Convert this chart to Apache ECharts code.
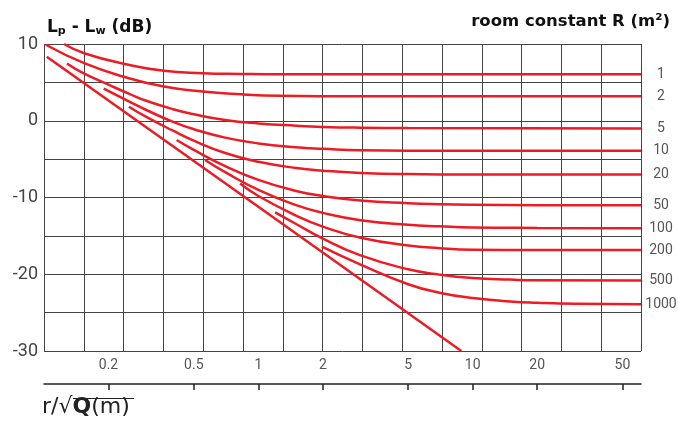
<!DOCTYPE html>
<html>
<head>
<meta charset="utf-8">
<script src="https://cdn.jsdelivr.net/npm/echarts@6/dist/echarts.min.js"></script>
<style>
  html, body { margin: 0; padding: 0; background: #fff; }
  #chart { width: 678px; height: 424px; }
</style>
</head>
<body>
<div id="chart"></div>
<script>
// x: r/sqrt(Q) in m (log axis), y: Lp - Lw in dB
var xTicks = [0.2, 0.5, 1, 2, 5, 10, 20, 50];
var roomNames = ['1', '2', '5', '10', '20', '50', '100', '200', '500', '1000'];

// free field (direct sound) line
var direct = [[0.103, 8.35], [1, -11.2], [8.85, -30]];

// one curve per room constant R
var curveR1 = [[0.124, 10.0], [0.154, 8.8], [0.238, 7.4], [0.363, 6.5], [0.55, 6.2], [0.83, 6.1], [1.26, 6.05], [61, 6.05]];
var curveR2 = [[0.102, 9.9], [0.154, 7.5], [0.238, 5.7], [0.363, 4.45], [0.55, 3.8], [0.83, 3.45], [1.26, 3.25], [1.94, 3.2], [61, 3.2]];
var curveR5 = [[0.128, 7.45], [0.15, 6.3], [0.2, 4.7], [0.25, 3.5], [0.3, 2.6], [0.4, 1.5], [0.5, 0.85], [0.7, 0.1], [1, -0.35], [1.5, -0.65], [2, -0.8], [3, -0.9], [5, -0.95], [61, -1.0]];
var curveR10 = [[0.19, 4.2], [0.25, 2.5], [0.3, 1.4], [0.4, -0.15], [0.5, -1.1], [0.7, -2.2], [1, -2.95], [1.5, -3.45], [2, -3.65], [3, -3.85], [5, -3.9], [61, -3.9]];
var curveR20 = [[0.249, 1.83], [0.3, 0.5], [0.4, -1.3], [0.5, -2.6], [0.7, -4.2], [1, -5.35], [1.5, -6.15], [2, -6.5], [3, -6.8], [5, -6.95], [10, -7.0], [61, -7.0]];
var curveR50 = [[0.416, -2.51], [0.5, -3.8], [0.7, -5.9], [1, -7.7], [1.5, -9.15], [2, -9.8], [3, -10.4], [5, -10.75], [7, -10.88], [10, -10.95], [20, -11.0], [61, -11.0]];
var curveR100 = [[0.564, -5.11], [0.7, -6.7], [1, -9.0], [1.5, -11.0], [2, -12.0], [3, -12.95], [5, -13.55], [7, -13.75], [10, -13.9], [20, -13.96], [61, -14.0]];
var curveR200 = [[0.822, -8.18], [1, -9.8], [1.5, -12.35], [2, -13.8], [3, -15.25], [5, -16.25], [7, -16.6], [10, -16.8], [20, -16.85], [61, -16.85]];
var curveR500 = [[1.198, -11.93], [1.5, -13.45], [2, -15.35], [3, -17.55], [5, -19.35], [7, -20.05], [10, -20.5], [15, -20.7], [20, -20.78], [61, -20.8]];
var curveR1000 = [[1.979, -16.41], [3, -18.75], [5, -21.3], [7, -22.4], [10, -23.1], [15, -23.55], [20, -23.72], [30, -23.85], [61, -23.9]];

var curves = [curveR1, curveR2, curveR5, curveR10, curveR20, curveR50, curveR100, curveR200, curveR500, curveR1000];

var gridColumns = 15;
var red = '#ec1c24';

var myChart = echarts.init(document.getElementById('chart'));

var series = [{
    name: 'direct',
    type: 'line',
    xAxisIndex: 0,
    data: direct,
    showSymbol: false,
    lineStyle: { color: red, width: 2.5 },
    z: 3
}, {
    // empty series so the evenly spaced grid axis gets drawn
    name: 'grid',
    type: 'line',
    xAxisIndex: 1,
    data: [],
    silent: true
}];
for (var i = 0; i < curves.length; i++) {
    series.push({
        name: roomNames[i],
        type: 'line',
        xAxisIndex: 0,
        data: curves[i],
        showSymbol: false,
        smooth: 0.5,
        lineStyle: { color: red, width: 2.5 },
        endLabel: {
            show: true,
            distance: 0,
            formatter: '{c|{a}}',
            rich: {
                c: { width: 40, align: 'center', fontSize: 14, color: '#555', fontFamily: 'Roboto' }
            }
        },
        z: 3
    });
}

var option = {
    animation: false,
    backgroundColor: '#fff',
    title: [{
        left: 42,
        top: 13,
        text: '{a|L}{s|p}{a| - L}{s|w}{a| (dB)}',
        textStyle: {
            rich: {
                a: { fontSize: 17, fontWeight: 'bold', color: '#111', fontFamily: 'DejaVu Sans' },
                s: { fontSize: 11, fontWeight: 'bold', color: '#111', fontFamily: 'DejaVu Sans', padding: [8, 0, 0, 0] }
            }
        }
    }, {
        right: 3,
        top: 8,
        text: 'room constant R (m²)',
        textStyle: { fontSize: 16.5, fontWeight: 'bold', color: '#111', fontFamily: 'DejaVu Sans' }
    }],
    grid: { left: 44, right: 37, top: 44, bottom: 73 },
    xAxis: [{
        type: 'log',
        min: 0.1,
        max: 61,
        position: 'bottom',
        offset: 33,
        axisLine: { show: true, onZero: false, lineStyle: { color: '#222', width: 1.5 } },
        axisTick: { show: true, inside: false, length: 6, customValues: xTicks, lineStyle: { color: '#222', width: 1.5 } },
        axisLabel: {
            inside: true, margin: 12, customValues: xTicks,
            fontSize: 14, color: '#555', fontFamily: 'Roboto',
            formatter: function (v) { return String(v); }
        },
        splitLine: { show: false },
        minorTick: { show: false }
    }, {
        type: 'value',
        min: 0,
        max: gridColumns,
        interval: 1,
        position: 'top',
        axisLine: { show: false, onZero: false },
        axisTick: { show: false },
        axisLabel: { show: false },
        splitLine: { show: true, lineStyle: { color: '#444', width: 1 } }
    }],
    yAxis: {
        type: 'value',
        min: -30,
        max: 10,
        interval: 5,
        axisLine: { show: false },
        axisTick: { show: false },
        axisLabel: {
            margin: 6, fontSize: 18, color: '#444', fontFamily: 'Roboto',
            formatter: function (v) { return v % 10 === 0 ? String(v) : ''; }
        },
        splitLine: { show: true, lineStyle: { color: '#444', width: 1 } }
    },
    graphic: [{
        type: 'text',
        left: 42,
        top: 396,
        style: {
            text: '{n|r/√}{b|Q}{n|(m)}',
            rich: {
                n: { fontSize: 22, fill: '#222', fontFamily: 'DejaVu Sans' },
                b: { fontSize: 22, fill: '#222', fontFamily: 'DejaVu Sans', fontWeight: 'bold' }
            }
        }
    }, {
        type: 'line',
        shape: { x1: 73, y1: 398.5, x2: 134, y2: 398.5 },
        style: { stroke: '#222', lineWidth: 1.2 }
    }],
    series: series
};

myChart.setOption(option);
</script>
</body>
</html>
